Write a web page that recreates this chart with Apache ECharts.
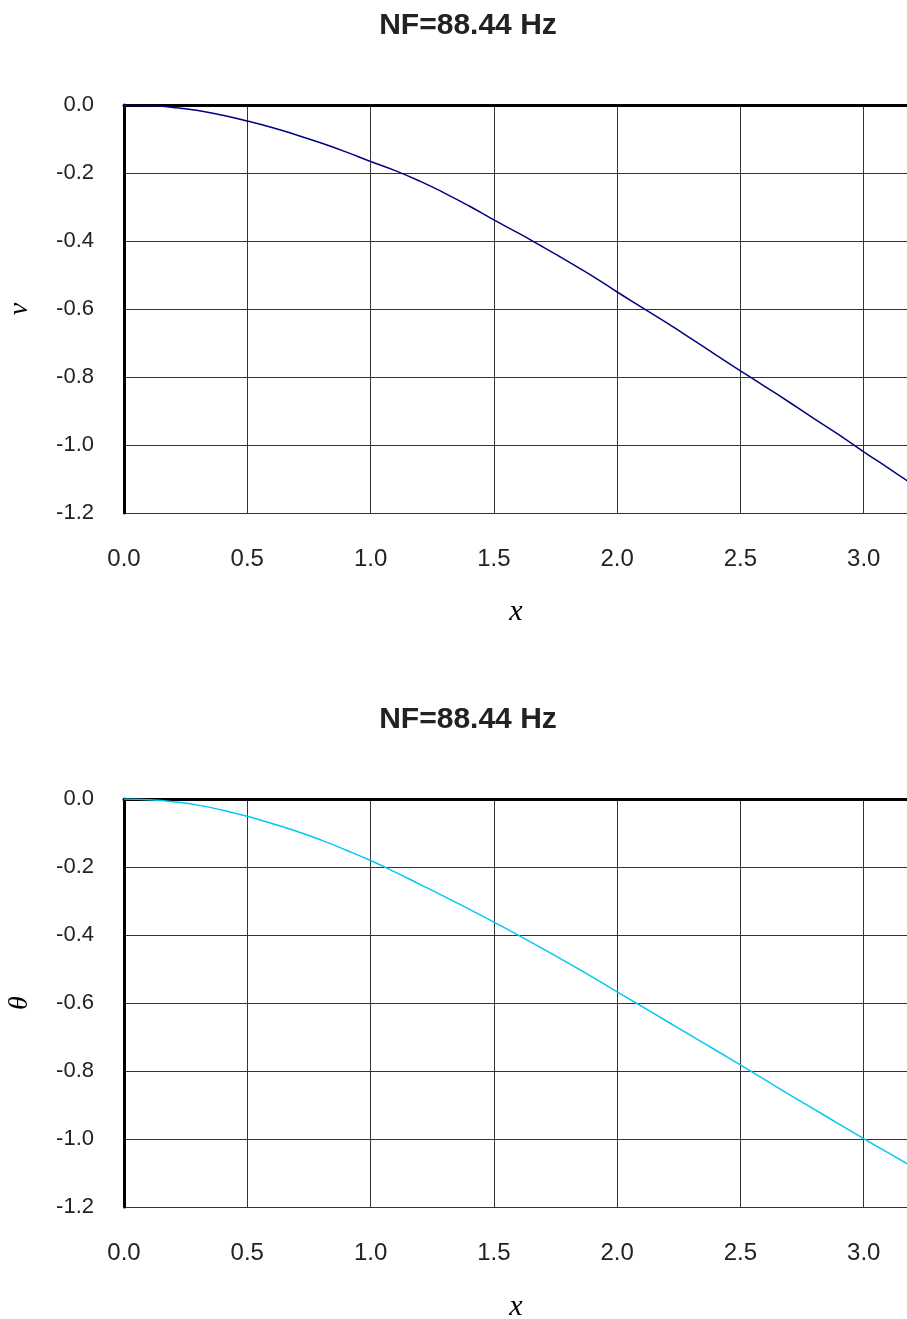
<!DOCTYPE html>
<html>
<head>
<meta charset="utf-8">
<script src="https://cdn.jsdelivr.net/npm/echarts@6/dist/echarts.min.js"></script>
<style>
  html, body { margin: 0; padding: 0; background: #fff; }
  #chart { width: 907px; height: 1319px; }
</style>
</head>
<body>
<div id="chart"></div>
<script>
// x positions along the beam
const xs = [0, 0.1, 0.2, 0.3, 0.4, 0.5, 0.6, 0.7, 0.8, 0.9, 1.0, 1.1, 1.2, 1.3, 1.4, 1.5, 1.6,
  1.7, 1.8, 1.9, 2.0, 2.1, 2.2, 2.3, 2.4, 2.5, 2.6, 2.7, 2.8, 2.9, 3.0, 3.1, 3.2]

// mode shape: deflection v
const vVals = [0, -0.002, -0.007, -0.016, -0.030, -0.047, -0.066, -0.088, -0.112, -0.138,
  -0.166, -0.193, -0.224, -0.259, -0.297, -0.338, -0.377, -0.418, -0.460, -0.503,
  -0.550, -0.595, -0.640, -0.687, -0.735, -0.782, -0.828, -0.875, -0.923, -0.970,
  -1.020, -1.068, -1.117]

// mode shape: rotation theta
const thetaVals = [0, -0.002, -0.008, -0.018, -0.033, -0.051, -0.072, -0.095, -0.121, -0.150,
  -0.181, -0.215, -0.251, -0.287, -0.324, -0.362, -0.401, -0.441, -0.482, -0.524,
  -0.567, -0.610, -0.653, -0.696, -0.739, -0.782, -0.826, -0.870, -0.913, -0.956,
  -0.999, -1.041, -1.083]

const xTicks = [0, 0.5, 1.0, 1.5, 2.0, 2.5, 3.0, 3.5]
const yTicks = [0, -0.2, -0.4, -0.6, -0.8, -1.0, -1.2]
const titleText = 'NF=88.44 Hz'

const chart = echarts.init(document.getElementById('chart'))

const sans = 'Liberation Sans, Arial, sans-serif'
const serif = 'Liberation Serif, Times New Roman, serif'

const bottomX = (gridIndex) => ({
  type: 'value',
  gridIndex,
  position: 'bottom',
  min: xTicks[0],
  max: xTicks[xTicks.length - 1],
  interval: 0.5,
  axisLine: { lineStyle: { color: '#999', width: 1.5 } },
  axisTick: { show: false },
  axisLabel: {
    margin: 34,
    fontFamily: sans,
    fontSize: 24,
    color: '#222',
    formatter: (v) => v.toFixed(1)
  },
  splitLine: { show: true, lineStyle: { color: '#333', width: 1 } }
})

const topX = (gridIndex) => ({
  type: 'value',
  gridIndex,
  position: 'top',
  min: xTicks[0],
  max: xTicks[xTicks.length - 1],
  interval: 0.5,
  axisLine: { lineStyle: { color: '#000', width: 3 } },
  axisTick: { show: false },
  axisLabel: { show: false },
  splitLine: { show: false }
})

const leftY = (gridIndex, name) => ({
  type: 'value',
  gridIndex,
  min: yTicks[yTicks.length - 1],
  max: yTicks[0],
  interval: 0.2,
  name,
  nameLocation: 'middle',
  nameGap: 90,
  nameTextStyle: { fontFamily: serif, fontStyle: 'italic', fontSize: 28, color: '#000' },
  axisLine: { show: true, onZero: false, lineStyle: { color: '#000', width: 3 } },
  axisTick: { show: false },
  axisLabel: {
    margin: 30,
    fontFamily: sans,
    fontSize: 22,
    color: '#222',
    formatter: (v) => v.toFixed(1)
  },
  splitLine: { show: true, lineStyle: { color: '#333', width: 1 } }
})

chart.setOption({
  animation: false,
  backgroundColor: '#fff',
  title: [
    { text: titleText, left: 463, top: 6, textAlign: 'center',
      textStyle: { fontFamily: sans, fontWeight: 'bold', fontSize: 30, color: '#222' } },
    { text: titleText, left: 463, top: 700, textAlign: 'center',
      textStyle: { fontFamily: sans, fontWeight: 'bold', fontSize: 30, color: '#222' } },
    { text: 'x', left: 511, top: 592, textAlign: 'center',
      textStyle: { fontFamily: serif, fontStyle: 'italic', fontWeight: 'normal', fontSize: 30, color: '#000' } },
    { text: 'x', left: 511, top: 1287, textAlign: 'center',
      textStyle: { fontFamily: serif, fontStyle: 'italic', fontWeight: 'normal', fontSize: 30, color: '#000' } }
  ],
  grid: [
    { left: 124, top: 105, width: 863, height: 408, outerBoundsMode: 'none', containLabel: false },
    { left: 124, top: 799, width: 863, height: 408, outerBoundsMode: 'none', containLabel: false }
  ],
  xAxis: [bottomX(0), topX(0), bottomX(1), topX(1)],
  yAxis: [leftY(0, 'v'), leftY(1, 'θ')],
  series: [
    {
      type: 'line',
      xAxisIndex: 0,
      yAxisIndex: 0,
      data: xs.map((x, i) => [x, vVals[i]]),
      showSymbol: false,
      smooth: true,
      lineStyle: { color: '#000080', width: 1.5 },
      z: 1
    },
    {
      type: 'line',
      xAxisIndex: 2,
      yAxisIndex: 1,
      data: xs.map((x, i) => [x, thetaVals[i]]),
      showSymbol: false,
      smooth: true,
      lineStyle: { color: '#00c8f5', width: 1.5 },
      z: 1
    }
  ]
})
</script>
</body>
</html>
